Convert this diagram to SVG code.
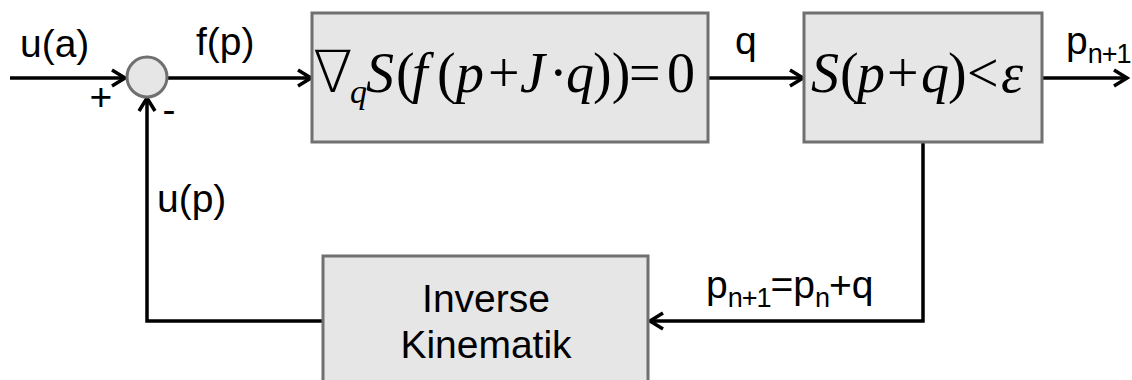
<svg xmlns="http://www.w3.org/2000/svg" width="1132" height="380" viewBox="0 0 1132 380">
<style>
.box{fill:#e6e6e6;stroke:#707070;stroke-width:3}
.ln{fill:none;stroke:#000;stroke-width:3.5}
.lbl{font-family:"Liberation Sans",Arial,sans-serif;font-size:39px;fill:#000}
.sub{font-size:27px;letter-spacing:-1px}
.m{font-family:"Liberation Serif","Times New Roman",serif;font-size:56px;fill:#000}
.it{font-style:italic}
.nab{font-family:"DejaVu Sans",sans-serif;font-weight:200;font-size:58px}
</style>
<defs>
<marker id="ah" viewBox="-16 -11 19 22" markerWidth="19" markerHeight="22" refX="0" refY="0" orient="auto" markerUnits="userSpaceOnUse">
<path d="M-13,-8 L0,0 L-13,8" fill="none" stroke="#000" stroke-width="3.5"/>
</marker>
</defs>
<rect width="1132" height="380" fill="#fff"/>
<g id="connectors">
<line class="ln" x1="10" y1="78" x2="125" y2="78" marker-end="url(#ah)"/>
<line class="ln" x1="167" y1="78" x2="311" y2="78" marker-end="url(#ah)"/>
<line class="ln" x1="708" y1="78" x2="803" y2="78" marker-end="url(#ah)"/>
<line class="ln" x1="1042" y1="78" x2="1127" y2="78" marker-end="url(#ah)"/>
<polyline class="ln" points="923,142 923,321 650,321" marker-end="url(#ah)"/>
<polyline class="ln" points="323,321 147,321 147,98" marker-end="url(#ah)"/>
</g>
<g id="sum">
<circle cx="147" cy="77" r="20" class="box"/>
<text class="lbl" x="101" y="110" text-anchor="middle" font-size="37">+</text>
<text class="lbl" x="169" y="123" text-anchor="middle" font-size="37">-</text>
</g>
<g id="labels">
<text class="lbl" x="20" y="57">u(a)</text>
<text class="lbl" x="196" y="55">f(p)</text>
<text class="lbl" x="735" y="54">q</text>
<text class="lbl" x="1066" y="54">p<tspan class="sub" dy="9">n+1</tspan></text>
<text class="lbl" x="157" y="212">u(p)</text>
<text class="lbl" x="706" y="298">p<tspan class="sub" dy="9">n+1</tspan><tspan dy="-9">=p</tspan><tspan class="sub" dy="9">n</tspan><tspan dy="-9">+q</tspan></text>
</g>
<g id="grad">
<rect class="box" x="312" y="13" width="396" height="129"/>
<text class="m" y="92"><tspan class="nab" x="313">∇</tspan><tspan class="it" x="350" dy="11" font-size="34">q</tspan><tspan class="it" x="366" dy="-11">S</tspan><tspan x="396">(</tspan><tspan class="it" x="412">f</tspan><tspan x="437">(</tspan><tspan class="it" x="456">p</tspan><tspan x="488">+</tspan><tspan class="it" x="520">J</tspan><tspan x="549">·</tspan><tspan class="it" x="566">q</tspan><tspan x="593">))</tspan><tspan x="629">=</tspan><tspan x="667">0</tspan></text>
</g>
<g id="check">
<rect class="box" x="804" y="13" width="238" height="129"/>
<text class="m" y="92"><tspan class="it" x="811">S</tspan><tspan x="840">(</tspan><tspan class="it" x="857">p</tspan><tspan x="887">+</tspan><tspan class="it" x="921">q</tspan><tspan x="948">)</tspan><tspan x="967">&lt;</tspan><tspan class="it" x="1001">ε</tspan></text>
</g>
<g id="ik">
<rect class="box" x="323" y="256" width="325" height="130"/>
<text class="lbl" x="486" y="312" text-anchor="middle">Inverse</text>
<text class="lbl" x="486" y="358" text-anchor="middle">Kinematik</text>
</g>
</svg>
